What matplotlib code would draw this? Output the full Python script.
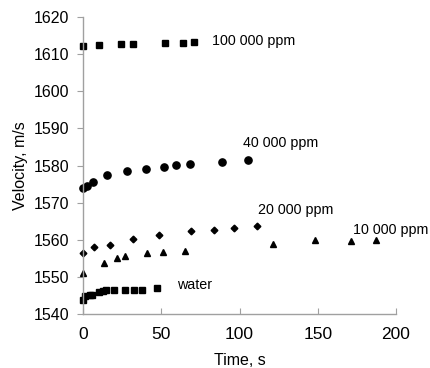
import matplotlib
matplotlib.use("Agg")
import matplotlib.pyplot as plt

plt.rcParams['font.family'] = ['Liberation Sans', 'DejaVu Sans']

# 100 000 ppm
t_100k = [0, 10, 24.2, 31.8, 52.2, 63.7, 70.7]
v_100k = [1612.2, 1612.5, 1612.8, 1612.8, 1613.1, 1613.1, 1613.4]

# 40 000 ppm
t_40k = [0, 2.3, 6.2, 15.3, 28, 40, 52, 59.6, 68.6, 88.7, 105.5]
v_40k = [1573.9, 1574.5, 1575.6, 1577.4, 1578.4, 1579.1, 1579.7, 1580.1, 1580.5, 1580.9, 1581.6]

# 20 000 ppm
t_20k = [0, 7.2, 17.1, 32, 48.6, 69, 83.6, 96.5, 111.3]
v_20k = [1556.5, 1558.0, 1558.6, 1560.2, 1561.2, 1562.4, 1562.7, 1563.2, 1563.6]

# 10 000 ppm
t_10k = [0, 13.1, 22, 27.1, 41.1, 50.8, 65, 121.5, 148.4, 171.5, 187.4]
v_10k = [1551.0, 1553.7, 1555.1, 1555.5, 1556.3, 1556.6, 1557.0, 1558.8, 1559.9, 1559.8, 1560.0]

# water
t_w = [0, 1.5, 4.5, 6, 10, 12.5, 15, 20, 27, 32.3, 37.6, 47.1]
v_w = [1543.8, 1544.9, 1545.1, 1545.1, 1545.8, 1546.2, 1546.4, 1546.4, 1546.6, 1546.6, 1546.6, 1547.0]

labels = ['100 000 ppm', '40 000 ppm', '20 000 ppm', '10 000 ppm', 'water']
label_pos = [(82.5, 1613.5), (102, 1586.0), (111.5, 1568.0), (172.5, 1562.6), (60, 1547.8)]

fig = plt.figure(figsize=(4.31, 3.68), dpi=100)
ax = fig.add_axes([0.1926, 0.1467, 0.7262, 0.8071])

ax.plot(t_100k, v_100k, 's', color='black', markersize=5, clip_on=False)
ax.plot(t_40k, v_40k, 'o', color='black', markersize=5.2, clip_on=False)
ax.plot(t_20k, v_20k, 'D', color='black', markersize=3.4, clip_on=False)
ax.plot(t_10k, v_10k, '^', color='black', markersize=5, clip_on=False)
ax.plot(t_w, v_w, 's', color='black', markersize=5, clip_on=False)

for lab, (x, y) in zip(labels, label_pos):
    ax.text(x, y, lab, fontsize=10.3, va='center', ha='left')

ax.set_xlim(0, 200)
ax.set_ylim(1540, 1620)
ax.set_xticks([0, 50, 100, 150, 200])
ax.set_yticks(range(1540, 1621, 10))

for s in ['top', 'right']:
    ax.spines[s].set_visible(False)
for s in ['left', 'bottom']:
    ax.spines[s].set_color('#a0a0a0')
    ax.spines[s].set_linewidth(1)

ax.tick_params(axis='y', direction='out', length=4, color='#a0a0a0', labelsize=11.5, pad=6)
ax.tick_params(axis='x', direction='in', length=4, color='#a0a0a0', labelsize=12.5, pad=9)

ax.set_xlabel('Time, s', fontsize=11.5, labelpad=8)
ax.set_ylabel('Velocity, m/s', fontsize=11.5, labelpad=4)

fig.savefig('out.png', dpi=100)
